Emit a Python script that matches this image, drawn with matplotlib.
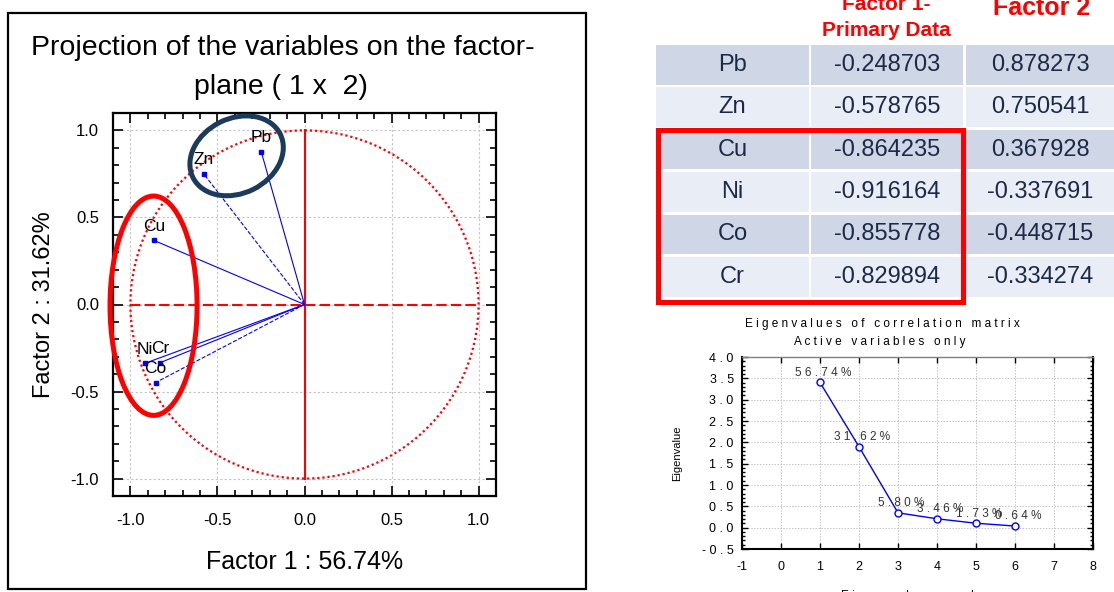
import matplotlib
matplotlib.use("Agg")

import numpy as np
import matplotlib.pyplot as plt
from matplotlib.patches import Rectangle, Ellipse
from matplotlib.ticker import FixedLocator, FuncFormatter

plt.rcParams["font.family"] = ["Liberation Sans", "DejaVu Sans"]

# -------------------------------------------------
# DATA
# -------------------------------------------------
variables = ["Pb", "Zn", "Cu", "Ni", "Co", "Cr"]
factor1 = [-0.248703, -0.578765, -0.864235, -0.916164, -0.855778, -0.829894]
factor2 = [0.878273, 0.750541, 0.367928, -0.337691, -0.448715, -0.334274]
vector_styles = ["-", "--", "-", "-", "--", "-"]

eig_number = [1, 2, 3, 4, 5, 6]
eigenvalues = [3.404, 1.897, 0.348, 0.208, 0.104, 0.038]
eig_pct = ["56.74%", "31.62%", "5.80%", "3.46%", "1.73%", "0.64%"]

loading_ticks = [-1.0, -0.5, 0.0, 0.5, 1.0]
eig_xticks = [-1, 0, 1, 2, 3, 4, 5, 6, 7, 8]
eig_yticks = [-0.5, 0.0, 0.5, 1.0, 1.5, 2.0, 2.5, 3.0, 3.5, 4.0]

W, H = 1114, 592
RED = "#ff0000"
BLUE = "#0000ff"
NAVY = "#1b3a5c"


def box(x0, y0, x1, y1):
    # pixel box -> figure fraction [left, bottom, width, height]
    return [x0 / W, 1 - y1 / H, (x1 - x0) / W, (y1 - y0) / H]


def spaced(s):
    return " ".join(s)


fig = plt.figure(figsize=(W / 100, H / 100), dpi=100)

# background layer in pixel coords (frame + table)
bg = fig.add_axes([0, 0, 1, 1], zorder=0)
bg.set_xlim(0, W)
bg.set_ylim(H, 0)
bg.axis("off")

bg.add_patch(Rectangle((8, 13), 578, 576, fill=False, ec="black", lw=1.6))
bg.text(283, 48, "Projection of the variables on the factor-",
        ha="center", va="center", fontsize=20.5)
bg.text(281, 87, "plane ( 1 x  2)", ha="center", va="center", fontsize=20.5)

# -------------------------------------------------
# LOADINGS TABLE
# -------------------------------------------------
col_x = [656, 811, 966]
col_w = [153, 152, 148]
row_top, row_pitch, row_h = 45, 42.4, 39.5
cell_colors = ["#cfd7e7", "#e9edf5"]
text_col = "#1c2a48"

for i, var in enumerate(variables):
    y0 = row_top + i * row_pitch
    for j in range(3):
        bg.add_patch(Rectangle((col_x[j], y0), col_w[j], row_h,
                               fc=cell_colors[i % 2], ec="none"))
    yc = y0 + row_h / 2
    bg.text(col_x[0] + col_w[0] / 2, yc, var, ha="center", va="center",
            fontsize=17, color=text_col)
    bg.text(col_x[1] + col_w[1] / 2, yc, f"{factor1[i]:.6f}", ha="center",
            va="center", fontsize=17, color=text_col)
    bg.text(col_x[2] + col_w[2] / 2, yc, f"{factor2[i]:.6f}", ha="center",
            va="center", fontsize=17, color=text_col)

bg.text(886, 5, "Factor 1-", ha="center", va="center", fontsize=15,
        fontweight="bold", color=RED)
bg.text(886, 30, "Primary Data", ha="center", va="center", fontsize=15,
        fontweight="bold", color=RED)
bg.text(1042, 8, "Factor 2", ha="center", va="center", fontsize=18,
        fontweight="bold", color=RED)

bg.add_patch(Rectangle((657.5, 129.5), 305, 172, fill=False, ec=RED, lw=3.6))

# eigenvalue chart titles (sit left of the plot centre in the original)
bg.text(882, 324, spaced("Eigenvalues of correlation matrix"),
        ha="center", va="center", fontsize=8.5)
bg.text(880, 342, spaced("Active variables only"),
        ha="center", va="center", fontsize=8.5)

# -------------------------------------------------
# PROJECTION PLOT
# -------------------------------------------------
ax = fig.add_axes(box(113, 113, 496, 496), zorder=1)
ax.set_xlim(-1.1, 1.1)
ax.set_ylim(-1.1, 1.1)
ax.patch.set_alpha(0)

ax.xaxis.set_major_locator(FixedLocator(loading_ticks))
ax.yaxis.set_major_locator(FixedLocator(loading_ticks))
ax.xaxis.set_minor_locator(FixedLocator(np.arange(-11, 12) / 10))
ax.yaxis.set_minor_locator(FixedLocator(np.arange(-11, 12) / 10))
ax.xaxis.set_major_formatter(FuncFormatter(lambda v, p: f"{v:.1f}"))
ax.yaxis.set_major_formatter(FuncFormatter(lambda v, p: f"{v:.1f}"))
ax.tick_params(which="both", direction="in", top=True, right=True,
               labelsize=12, width=1.2)
ax.tick_params(which="major", length=7)
ax.tick_params(which="minor", length=4)
ax.tick_params(axis="x", pad=12)
ax.tick_params(axis="y", pad=10)
for s in ax.spines.values():
    s.set_linewidth(1.6)
ax.grid(True, color="#c4c4c4", linestyle=(0, (2, 2)), linewidth=0.8)

theta = np.linspace(0, 2 * np.pi, 500)
ax.plot(np.cos(theta), np.sin(theta), color=RED, linestyle=(0, (1, 1.3)), lw=1.6)
ax.plot([0, 0], [-1, 1], color=RED, lw=1.5)
ax.plot([-1, 1], [0, 0], color=RED, lw=1.5, linestyle=(0, (5, 2)))

for name, x, y, ls in zip(variables, factor1, factor2, vector_styles):
    ax.plot([0, x], [0, y], color=BLUE, lw=0.8, linestyle=ls)
    ax.plot([x], [y], marker="s", ms=2.5, color=BLUE)
    ax.annotate(name, (x, y), xytext=(0, 10), textcoords="offset points",
                ha="center", va="center", fontsize=12.5,
                bbox=dict(fc="none", ec="none", pad=0))

ax.set_xlabel("Factor 1 : 56.74%", fontsize=18, labelpad=16)
ax.set_ylabel("Factor 2 : 31.62%", fontsize=17, labelpad=11)

# highlight ellipses
ax.add_patch(Ellipse((-0.867, -0.007), 0.5, 1.26, fill=False, ec=RED,
                     lw=3.6, clip_on=False, zorder=5))
ax.add_patch(Ellipse((-0.39, 0.854), 0.56, 0.43, angle=26.5, fill=False,
                     ec=NAVY, lw=3.6, clip_on=False, zorder=5))

# -------------------------------------------------
# EIGENVALUE PLOT
# -------------------------------------------------
ax2 = fig.add_axes(box(742, 357, 1093, 549), zorder=1)
ax2.set_xlim(-1, 8)
ax2.set_ylim(-0.5, 4.0)
ax2.xaxis.set_major_locator(FixedLocator(eig_xticks))
ax2.yaxis.set_major_locator(FixedLocator(eig_yticks))
ax2.yaxis.set_minor_locator(FixedLocator(np.arange(-5, 41) / 10))
ax2.xaxis.set_major_formatter(FuncFormatter(lambda v, p: f"{v:g}"))
ax2.yaxis.set_major_formatter(FuncFormatter(lambda v, p: spaced(f"{v:.1f}")))
ax2.tick_params(which="both", direction="in", top=True, right=True,
                labelsize=9, width=1, colors="black")
ax2.tick_params(which="major", length=4, pad=6)
ax2.tick_params(which="minor", length=2)
ax2.tick_params(axis="x", pad=9)
for s in ax2.spines.values():
    s.set_linewidth(1.5)
ax2.spines["top"].set_color("#808080")
ax2.spines["top"].set_linewidth(1)
ax2.grid(True, color="#c4c4c4", linestyle=(0, (1.5, 1.5)), linewidth=0.7)

ax2.plot(eig_number, eigenvalues, color=BLUE, lw=1, marker="o", ms=5,
         mfc="white", mec=BLUE, mew=1)
for n, v, lab in zip(eig_number, eigenvalues, eig_pct):
    ax2.annotate(spaced(lab), (n, v), xytext=(2, 7), textcoords="offset points",
                 ha="center", va="center", fontsize=8.5, color="#333333")

ax2.set_xlabel(spaced("Eigenvalue number"), fontsize=8.5, labelpad=12)
ax2.set_ylabel("Eigenvalue", fontsize=8, labelpad=14)

fig.savefig("out.png", dpi=100)
